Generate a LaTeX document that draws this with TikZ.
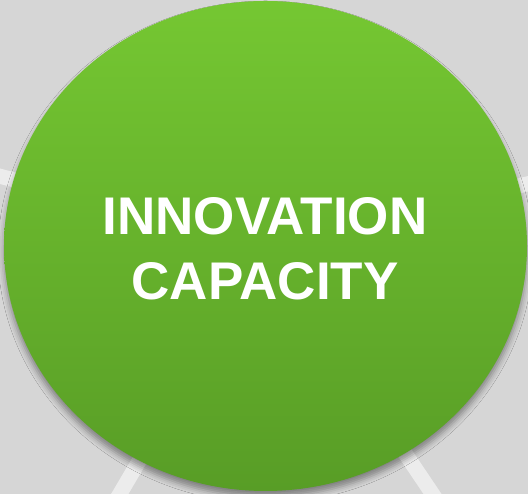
\documentclass[tikz,border=0pt]{standalone}
\usepackage{fontspec}
\setmainfont{Liberation Sans}
\usetikzlibrary{shapes.geometric,shadows.blur}
\definecolor{bggray}{RGB}{214,214,214}
\definecolor{spokegray}{RGB}{236,236,236}
\definecolor{greentop}{RGB}{117,199,50}
\definecolor{greenbot}{RGB}{88,157,38}

\begin{document}
\begin{tikzpicture}[x=1pt,y=1pt, spoke/.style={spokegray, line width=15pt}]{

    \fill [bggray] (0,0) rectangle (528,494);
    \useasboundingbox (0,0) rectangle (528,494);

    \coordinate (hub) at (265.5,248);
    \coordinate (W) at (-20,323);
    \coordinate (E) at (548,315);
    \coordinate (SW) at (108,-20);
    \coordinate (SE) at (446,-20);

    \begin{scope}
    \clip (0,0) rectangle (528,494);
    \path [spoke] (hub) edge (W);
    \path [spoke] (hub) edge (E);
    \path [spoke] (hub) edge (SW);
    \path [spoke] (hub) edge (SE);
    \end{scope}

    \node [ellipse, inner sep=0pt, minimum width=523pt, minimum height=490pt,
           top color=greentop, bottom color=greenbot,
           blur shadow={shadow xshift=0pt, shadow yshift=-6pt, shadow blur radius=6pt, shadow opacity=40}] (core) at (hub) {};
    \node [white, font=\bfseries\fontsize{53}{65}\selectfont, align=center] (title) at (265,245.5) {INNOVATION\\CAPACITY};
    }
\end{tikzpicture}
\end{document}
